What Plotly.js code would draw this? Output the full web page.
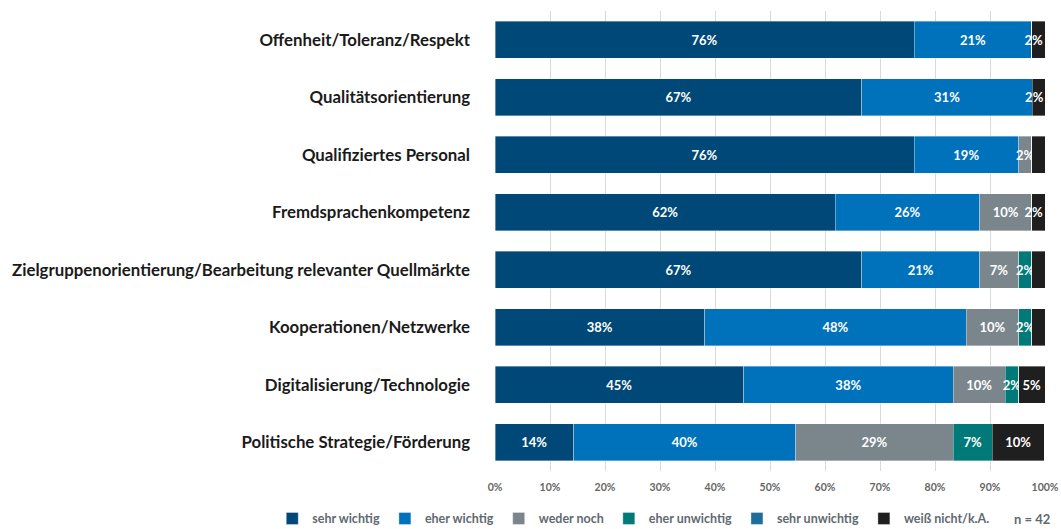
<!DOCTYPE html>
<html>
<head>
<meta charset="utf-8">
<script src="https://cdn.plot.ly/plotly-3.0.1.min.js"></script>
<style>
  html, body { margin: 0; padding: 0; background: #fff; }
  #myDiv { width: 1061px; height: 529px; }
</style>
</head>
<body>
<div id="myDiv"></div>
<script>
var categories = [
  'Offenheit/Toleranz/Respekt',
  'Qualitätsorientierung',
  'Qualifiziertes Personal',
  'Fremdsprachenkompetenz',
  'Zielgruppenorientierung/Bearbeitung relevanter Quellmärkte',
  'Kooperationen/Netzwerke',
  'Digitalisierung/Technologie',
  'Politische Strategie/Förderung'
];

var seriesNames = ['sehr wichtig', 'eher wichtig', 'weder noch', 'eher unwichtig', 'sehr unwichtig', 'weiß nicht/k.A.'];
var seriesColors = ['#004878', '#0072bc', '#7a868c', '#007a78', '#1e6e9c', '#1f1f1f'];

// Anteile in % (n = 42)
var sehrWichtig    = [76.2, 66.7, 76.2, 61.9, 66.7, 38.1, 45.2, 14.3];
var eherWichtig    = [21.4, 31.0, 19.0, 26.2, 21.4, 47.6, 38.1, 40.4];
var wederNoch      = [0, 0, 2.4, 9.5, 7.1, 9.5, 9.5, 28.6];
var eherUnwichtig  = [0, 0, 0, 0, 2.4, 2.4, 2.4, 7.1];
var sehrUnwichtig  = [0, 0, 0, 0, 0, 0, 0, 0];
var weissNicht     = [2.4, 2.4, 2.4, 2.4, 2.4, 2.4, 4.8, 9.5];

var xTicks = [0, 10, 20, 30, 40, 50, 60, 70, 80, 90, 100];

var allSeries = [sehrWichtig, eherWichtig, wederNoch, eherUnwichtig, sehrUnwichtig, weissNicht];
var lastIdx = allSeries.length - 1;

var data = [];
for (var s = 0; s < allSeries.length; s++) {
  var vals = allSeries[s];
  var labels = vals.map(function (v, i) {
    if (v <= 0) return '';
    var lbl = Math.round(v) + '%';
    if (s > 0 && v < 3) {
      // hidden when the segment before is small too
      for (var p = s - 1; p >= 0; p--) {
        if (allSeries[p][i] > 0) {
          if (allSeries[p][i] < 3) return '';
          break;
        }
      }
      // last tiny segment: label pulled left onto the boundary
      if (s === lastIdx) lbl = lbl + '\u00a0\u00a0\u00a0';
    }
    return lbl;
  });
  data.push({
    type: 'bar',
    orientation: 'h',
    name: seriesNames[s],
    y: categories,
    x: vals,
    text: labels,
    textposition: 'inside',
    insidetextanchor: 'middle',
    textangle: 0,
    textfont: { family: 'Lato', size: 13, color: '#ffffff', weight: 'bold' },
    marker: { color: seriesColors[s], line: { color: 'rgba(255,255,255,0.6)', width: 0.6 } },
    hoverinfo: 'name+x'
  });
}

var layout = {
  width: 1061,
  height: 529,
  barmode: 'stack',
  bargap: 0.355,
  margin: { l: 495, r: 16, t: 11, b: 58, autoexpand: false },
  paper_bgcolor: '#ffffff',
  plot_bgcolor: '#ffffff',
  font: { family: 'Lato', color: '#222222' },
  uniformtext: { mode: 'show', minsize: 13 },
  xaxis: {
    range: [0, 100],
    tickvals: xTicks,
    ticktext: xTicks.map(function (t) { return t + '%'; }),
    showgrid: true,
    gridcolor: '#d9d9d9',
    gridwidth: 1,
    zeroline: false,
    showline: false,
    ticks: '',
    ticklabelstandoff: 8,
    tickfont: { family: 'Lato', size: 10.5, color: '#666666', weight: 'bold' }
  },
  yaxis: {
    autorange: 'reversed',
    showgrid: false,
    zeroline: false,
    ticks: '',
    ticklabelstandoff: 24,
    tickfont: { family: 'Lato', size: 16.8, color: '#1a1a1a', weight: 'bold' }
  },
  showlegend: true,
  legend: {
    orientation: 'h',
    xref: 'paper',
    yref: 'paper',
    x: -0.405,
    xanchor: 'left',
    y: -0.104,
    yanchor: 'middle',
    traceorder: 'normal',
    itemwidth: 30,
    tracegroupgap: 0,
    font: { family: 'Lato', size: 12.5, color: '#5f6a72', weight: 'bold' },
    bgcolor: 'rgba(0,0,0,0)'
  },
  annotations: [{
    xref: 'paper',
    yref: 'paper',
    x: 1.013,
    y: -0.104,
    xanchor: 'right',
    yanchor: 'middle',
    showarrow: false,
    text: 'n = 42',
    font: { family: 'Lato', size: 13, color: '#5f6a72', weight: 'bold' }
  }]
};

Plotly.newPlot('myDiv', data, layout, { displayModeBar: false, responsive: false });
</script>
</body>
</html>
